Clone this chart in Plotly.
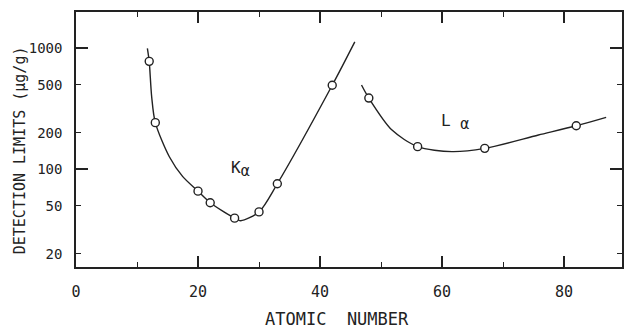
import plotly.graph_objects as go

# --- data ---
ka_z = [12, 13, 20, 22, 26, 30, 33, 42]
ka_dl = [780, 243, 66, 53, 39.5, 44.5, 76, 495]
ka_curve_z = [11.7, 12, 12.4, 13, 15.3, 17.5, 20, 22, 26, 27, 30, 33, 42, 45.7]
ka_curve_dl = [1000, 780, 400, 243, 127, 87, 66, 53, 39.5, 37.6, 44.5, 76, 495, 1130]

la_z = [48, 56, 67, 82]
la_dl = [388, 154, 149, 229]
la_curve_z = [46.8, 48, 51.8, 56, 61.6, 67, 75.8, 82, 86.9]
la_curve_dl = [498, 388, 211, 154, 140, 149, 192, 229, 269]

x_ticks = [0, 20, 40, 60, 80]
y_ticks = [20, 50, 100, 200, 500, 1000]
y_long_ticks = [100, 1000]

INK = "#222222"
FONT = "DejaVu Sans Mono"

fig = go.Figure()
for cz, cd in [(ka_curve_z, ka_curve_dl), (la_curve_z, la_curve_dl)]:
    fig.add_trace(go.Scatter(x=cz, y=cd, mode="lines",
                             line=dict(color=INK, width=1.4, shape="spline", smoothing=0.8),
                             hoverinfo="skip", showlegend=False))
for pz, pd_ in [(ka_z, ka_dl), (la_z, la_dl)]:
    fig.add_trace(go.Scatter(x=pz, y=pd_, mode="markers",
                             marker=dict(symbol="circle", size=8, color="white",
                                         line=dict(color=INK, width=1.4)),
                             showlegend=False))
# invisible trace to carry the overlay axis with long ticks
fig.add_trace(go.Scatter(x=[None], y=[None], yaxis="y2", showlegend=False, hoverinfo="skip"))

yrange = [1.193, 3.300]
fig.update_layout(
    width=624, height=329,
    margin=dict(l=76, r=0, t=12, b=62),
    paper_bgcolor="white", plot_bgcolor="white",
    font=dict(family=FONT, color=INK),
    xaxis=dict(range=[0, 89.5], showgrid=False, zeroline=False,
               showline=True, linecolor=INK, linewidth=1.5, mirror="ticks",
               ticks="inside", ticklen=11, tickwidth=1.5, tickcolor=INK,
               tickvals=x_ticks, ticklabelstandoff=10,
               tickfont=dict(family=FONT, size=15, color=INK),
               minor=dict(dtick=10, ticks="inside", ticklen=5, tickwidth=1.3, tickcolor=INK)),
    yaxis=dict(type="log", range=yrange, showgrid=False, zeroline=False,
               showline=True, linecolor=INK, linewidth=1.5, mirror="ticks",
               ticks="inside", ticklen=5, tickwidth=1.3, tickcolor=INK,
               tickvals=y_ticks, ticktext=[str(v) for v in y_ticks],
               ticklabelstandoff=9,
               tickfont=dict(family=FONT, size=14, color=INK)),
    yaxis2=dict(type="log", range=yrange, overlaying="y", side="left",
                showgrid=False, zeroline=False, showline=False, mirror="ticks",
                ticks="inside", ticklen=12, tickwidth=1.5, tickcolor=INK,
                tickvals=y_long_ticks, showticklabels=False),
    annotations=[
        dict(text="DETECTION LIMITS (µg/g)", xref="paper", yref="paper",
             x=-0.102, y=0.459, xanchor="center", yanchor="middle",
             textangle=-90, showarrow=False,
             font=dict(family=FONT, size=15, color=INK)),
        dict(text="ATOMIC  NUMBER", xref="paper", yref="paper",
             x=0.478, y=-0.205, xanchor="center", yanchor="middle", showarrow=False,
             font=dict(family=FONT, size=17, color=INK)),
        dict(text="K<sub><span style='font-size:15px'>α</span></sub>", x=26.9, y=2.0,
             xref="x", yref="y", showarrow=False,
             font=dict(family=FONT, size=16, color=INK)),
        dict(text="L <sub><span style='font-size:15px'>α</span></sub>", x=62.2, y=2.39,
             xref="x", yref="y", showarrow=False,
             font=dict(family=FONT, size=16, color=INK)),
    ],
)

fig.write_html("out.html")
